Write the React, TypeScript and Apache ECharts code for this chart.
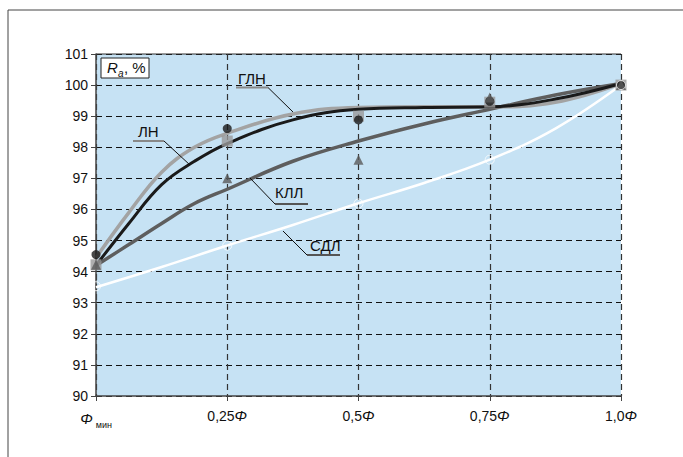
import React, { useEffect, useRef } from "react";
import * as echarts from "echarts";

const xs = [0, 0.0625, 0.125, 0.1875, 0.25, 0.375, 0.5, 0.625, 0.75, 0.875, 1];
const glnCurve = [94.45, 95.9, 97.2, 98.0, 98.45, 99.07, 99.28, 99.3, 99.3, 99.45, 100.05];
const lnCurve = [94.2, 95.55, 96.8, 97.55, 98.12, 98.88, 99.22, 99.28, 99.3, 99.55, 100.05];
const kllCurve = [94.2, 94.87, 95.55, 96.19, 96.65, 97.55, 98.2, 98.75, 99.22, 99.68, 100.05];
const sdlX = [0, 0.125, 0.25, 0.375, 0.5, 0.625, 0.75, 0.875, 1];
const sdlCurve = [93.5, 94.15, 94.84, 95.5, 96.2, 96.85, 97.6, 98.6, 100.0];

const markX = [0, 0.25, 0.5, 0.75, 1];
const lnPoints = [94.55, 98.6, 98.88, 99.48, 100.0];
const glnPoints = [94.22, 98.2, 99.0, 99.45, 100.0];
const kllPoints = [94.22, 97.0, 97.6, 99.6, 100.0];
const sdlPoints = [93.53, 94.84, 96.19, 97.6, 100.0];

const yTicks = [90, 91, 92, 93, 94, 95, 96, 97, 98, 99, 100, 101];
const xTickLabels: Record<string, string> = {
  "0": "{i|Φ}{s|мин}",
  "0.25": "0,25{i|Φ}",
  "0.5": "0,5{i|Φ}",
  "0.75": "0,75{i|Φ}",
  "1": "1,0{i|Φ}",
};

const pair = (a: number[], b: number[]) => a.map((v, i) => [v, b[i]]);

export default function App() {
  const ref = useRef<HTMLDivElement>(null);
  useEffect(() => {
    const chart = echarts.init(ref.current!, null, { renderer: "svg" });
    const font = "Liberation Sans, Arial, sans-serif";
    const lbl = (x: number, y: number, t: string) => ({
      type: "text",
      x,
      y,
      z: 100,
      style: { text: t, font: `15px ${font}`, fill: "#111" },
    });
    const seg = (x1: number, y1: number, x2: number, y2: number, c = "#111", w = 1) => ({
      type: "line",
      z: 100,
      shape: { x1, y1, x2, y2 },
      style: { stroke: c, lineWidth: w },
    });
    const curve = (x: number[], y: number[], color: string, width: number, z: number) => ({
      type: "line",
      data: pair(x, y),
      smooth: 0.4,
      showSymbol: false,
      lineStyle: { color, width },
      z,
    });
    chart.setOption({
      animation: false,
      backgroundColor: "#fff",
      textStyle: { fontFamily: font },
      grid: { left: 96, right: 62, top: 54, bottom: 61, show: true, backgroundColor: "#c6e2f4", borderWidth: 0 },
      xAxis: {
        type: "value",
        min: 0,
        max: 1,
        interval: 0.25,
        axisLine: { show: true, onZero: false, lineStyle: { color: "#444", width: 1.5 } },
        axisTick: { show: true, length: 5, lineStyle: { color: "#444" } },
        splitLine: { show: true, lineStyle: { color: "#333", type: [6, 4], width: 1.2 } },
        axisLabel: {
          margin: 12,
          color: "#111",
          fontSize: 14,
          formatter: (v: number) => xTickLabels[String(v)] ?? "",
          rich: {
            i: { fontStyle: "italic", fontSize: 15, color: "#111" },
            s: { fontSize: 9, color: "#111", padding: [12, 0, 0, 3] },
          },
        },
      },
      yAxis: {
        type: "value",
        min: 90,
        max: 101,
        interval: 1,
        axisLine: { show: true, lineStyle: { color: "#444", width: 1.5 } },
        axisTick: { show: true, length: 5, lineStyle: { color: "#444" } },
        splitLine: { show: true, lineStyle: { color: "#111", type: [6, 4], width: 1 } },
        axisLabel: { margin: 8, color: "#111", fontSize: 14, formatter: (v: number) => (yTicks.includes(v) ? String(v) : "") },
      },
      series: [
        curve(sdlX, sdlCurve, "#ffffff", 2.5, 2),
        curve(xs, kllCurve, "#5e5e5e", 3.5, 3),
        curve(xs, glnCurve, "#a3a3a3", 3.5, 4),
        curve(xs, lnCurve, "#1a1a1a", 3, 5),
        { type: "scatter", data: pair(markX, glnPoints), symbol: "rect", symbolSize: 11, itemStyle: { color: "#9a9a9a" }, z: 6 },
        { type: "scatter", data: pair(markX, lnPoints), symbol: "circle", symbolSize: 9, itemStyle: { color: "#1a1a1a" }, z: 7 },
        { type: "scatter", data: pair(markX, kllPoints), symbol: "triangle", symbolSize: 10, itemStyle: { color: "#5a5a5a" }, z: 8 },
        { type: "scatter", data: pair(markX, sdlPoints), symbol: "circle", symbolSize: 9, itemStyle: { color: "rgba(0,0,0,0)", borderColor: "#ffffff", borderWidth: 1 }, z: 8 },
      ],
      graphic: [
        { type: "rect", shape: { x: 8, y: 10, width: 700, height: 460 }, style: { fill: "none", stroke: "#444", lineWidth: 1 }, z: -10, silent: true },
        seg(96, 54, 621, 54, "#333", 1.2),
        {
          type: "rect",
          z: 100,
          shape: { x: 101, y: 58, width: 48, height: 20 },
          style: { fill: "#fff", stroke: "#222", lineWidth: 1 },
        },
        { type: "text", z: 101, x: 107, y: 60, style: { text: "R", font: `italic 15px ${font}`, fill: "#111" } },
        { type: "text", z: 101, x: 118, y: 68, style: { text: "a", font: `italic 10px ${font}`, fill: "#111" } },
        { type: "text", z: 101, x: 124, y: 60, style: { text: ", %", font: `15px ${font}`, fill: "#111" } },
        lbl(238, 71, "ГЛН"),
        seg(236, 87.5, 268, 87.5, "#888", 2),
        seg(268, 87.5, 293, 112),
        lbl(138, 124, "ЛН"),
        seg(133, 141, 164, 141, "#888", 2),
        seg(164, 141, 190, 165),
        lbl(275, 185, "КЛЛ"),
        seg(275, 204, 308, 204, "#555", 2),
        seg(275, 204, 250, 178),
        lbl(310, 238, "СДЛ"),
        seg(307, 255, 340, 255, "#555", 2),
        seg(307, 255, 283, 231),
      ],
    });
    return () => chart.dispose();
  }, []);
  return <div ref={ref} style={{ width: 683, height: 457, position: "absolute", left: 0, top: 0 }} />;
}
